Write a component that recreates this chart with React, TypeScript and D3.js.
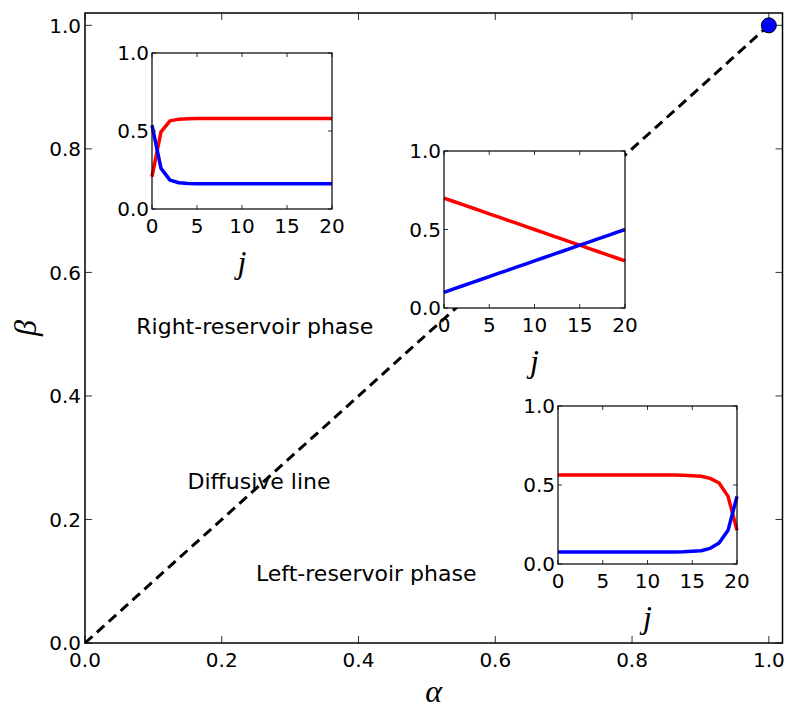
import React from 'react';
import * as d3 from 'd3';

// phase diagram values
const mainTicks = [0, 0.2, 0.4, 0.6, 0.8, 1.0];
const insetXTicks = [0, 5, 10, 15, 20];
const insetYTicks = [0, 0.5, 1.0];
const sites = [0, 1, 2, 3, 4, 5, 6, 7, 8, 9, 10, 11, 12, 13, 14, 15, 16, 17, 18, 19, 20];

const diffusiveLine = [[0, 0], [1, 1]];
const criticalPoint = [1, 1];

const rightRed = [0.207, 0.495, 0.565, 0.576, 0.579, 0.58, 0.58, 0.58, 0.58, 0.58, 0.58, 0.58, 0.58, 0.58, 0.58, 0.58, 0.58, 0.58, 0.58, 0.58, 0.58];
const rightBlue = [0.537, 0.26, 0.185, 0.168, 0.163, 0.162, 0.162, 0.162, 0.162, 0.162, 0.162, 0.162, 0.162, 0.162, 0.162, 0.162, 0.162, 0.162, 0.162, 0.162, 0.162];
const diffRed = [0.70, 0.68, 0.66, 0.64, 0.62, 0.60, 0.58, 0.56, 0.54, 0.52, 0.50, 0.48, 0.46, 0.44, 0.42, 0.40, 0.38, 0.36, 0.34, 0.32, 0.30];
const diffBlue = [0.10, 0.12, 0.14, 0.16, 0.18, 0.20, 0.22, 0.24, 0.26, 0.28, 0.30, 0.32, 0.34, 0.36, 0.38, 0.40, 0.42, 0.44, 0.46, 0.48, 0.50];
const leftRed = [0.563, 0.563, 0.563, 0.563, 0.563, 0.563, 0.563, 0.563, 0.563, 0.563, 0.563, 0.563, 0.563, 0.563, 0.562, 0.559, 0.555, 0.542, 0.513, 0.428, 0.213];
const leftBlue = [0.076, 0.076, 0.076, 0.076, 0.076, 0.076, 0.076, 0.076, 0.076, 0.076, 0.076, 0.076, 0.076, 0.076, 0.077, 0.080, 0.084, 0.099, 0.133, 0.213, 0.428];

const phaseLabels = [
  { text: 'Right-reservoir phase', x: 0.075, y: 0.5 },
  { text: 'Diffusive line', x: 0.15, y: 0.25 },
  { text: 'Left-reservoir phase', x: 0.25, y: 0.1 },
];

const insets = [
  { left: 152, top: 53, width: 180, height: 156, red: rightRed, blue: rightBlue },
  { left: 444, top: 151, width: 181, height: 157, red: diffRed, blue: diffBlue },
  { left: 558, top: 406, width: 179, height: 158, red: leftRed, blue: leftBlue },
];

const W = 787;
const H = 711;
const margin = { left: 85, right: 4.5, top: 13, bottom: 68 };
const font = '"DejaVu Sans", sans-serif';
const mathFont = '"Liberation Serif", serif';
const tickSize = 20;

const Inset = ({ left, top, width, height, red, blue }) => {
  const x = d3.scaleLinear().domain([0, 20]).range([left, left + width]);
  const y = d3.scaleLinear().domain([0, 1]).range([top + height, top]);
  const line = d3.line<number>().x((d, i) => x(sites[i])).y(d => y(d));
  const tl = 4;
  return (
    <g>
      <rect x={left} y={top} width={width} height={height} fill="white" />
      <path d={line(red)} fill="none" stroke="#ff0000" strokeWidth={3.5} strokeLinejoin="round" />
      <path d={line(blue)} fill="none" stroke="#0000ff" strokeWidth={3.5} strokeLinejoin="round" />
      {insetXTicks.map(t => (
        <g key={'x' + t}>
          <line x1={x(t)} x2={x(t)} y1={top + height} y2={top + height - tl} stroke="#333" />
          <line x1={x(t)} x2={x(t)} y1={top} y2={top + tl} stroke="#333" />
          <text x={x(t)} y={top + height + 24} textAnchor="middle" fontSize={tickSize} fontFamily={font}>{t}</text>
        </g>
      ))}
      {insetYTicks.map(t => (
        <g key={'y' + t}>
          <line x1={left} x2={left + tl} y1={y(t)} y2={y(t)} stroke="#333" />
          <line x1={left + width} x2={left + width - tl} y1={y(t)} y2={y(t)} stroke="#333" />
          <text x={left - 3} y={y(t)} dy="0.36em" textAnchor="end" fontSize={tickSize} fontFamily={font}>{t.toFixed(1)}</text>
        </g>
      ))}
      <rect x={left} y={top} width={width} height={height} fill="none" stroke="black" strokeWidth={1.2} />
      <text x={left + width / 2} y={top + height + 64} textAnchor="middle" fontSize={32} fontStyle="italic" fontFamily={mathFont}>j</text>
    </g>
  );
};

const App = () => {
  const x = d3.scaleLinear().domain([0, 1.02]).range([margin.left, W - margin.right]);
  const y = d3.scaleLinear().domain([0, 1.02]).range([H - margin.bottom, margin.top]);
  const line = d3.line<number[]>().x(d => x(d[0])).y(d => y(d[1]));
  const x0 = x(0), x1 = x(1.02), y0 = y(0), y1 = y(1.02);
  const tl = 7;

  return (
    <div style={{ position: 'absolute', left: 0, top: 0 }}>
      <svg width={W} height={H} viewBox={`0 0 ${W} ${H}`} style={{ display: 'block', background: 'white' }}>
        <path d={line(diffusiveLine)} fill="none" stroke="black" strokeWidth={3} strokeDasharray="10,6" />
        {phaseLabels.map(l => (
          <text key={l.text} x={x(l.x)} y={y(l.y)} fontSize={22} fontFamily={font}>{l.text}</text>
        ))}
        {mainTicks.map(t => (
          <g key={'mx' + t}>
            <line x1={x(t)} x2={x(t)} y1={y0} y2={y0 - tl} stroke="#333" />
            <line x1={x(t)} x2={x(t)} y1={y1} y2={y1 + tl} stroke="#333" />
            <text x={x(t)} y={y0 + 24} textAnchor="middle" fontSize={tickSize} fontFamily={font}>{t.toFixed(1)}</text>
            <line x1={x0} x2={x0 + tl} y1={y(t)} y2={y(t)} stroke="#333" />
            <line x1={x1} x2={x1 - tl} y1={y(t)} y2={y(t)} stroke="#333" />
            <text x={x0 - 4} y={y(t)} dy="0.36em" textAnchor="end" fontSize={tickSize} fontFamily={font}>{t.toFixed(1)}</text>
          </g>
        ))}
        <rect x={x0} y={y1} width={x1 - x0} height={y0 - y1} fill="none" stroke="black" strokeWidth={1.5} />
        <circle cx={x(criticalPoint[0])} cy={y(criticalPoint[1])} r={7.5} fill="#0000ff" stroke="black" strokeWidth={1} />
        {insets.map((d, i) => <Inset key={i} {...d} />)}
        <text x={(x0 + x1) / 2} y={702} textAnchor="middle" fontSize={32} fontStyle="italic" fontFamily={mathFont}>α</text>
        <text transform={`translate(36, ${(y0 + y1) / 2}) rotate(-90)`} textAnchor="middle" fontSize={32} fontStyle="italic" fontFamily={mathFont}>β</text>
      </svg>
    </div>
  );
};

export default App;
